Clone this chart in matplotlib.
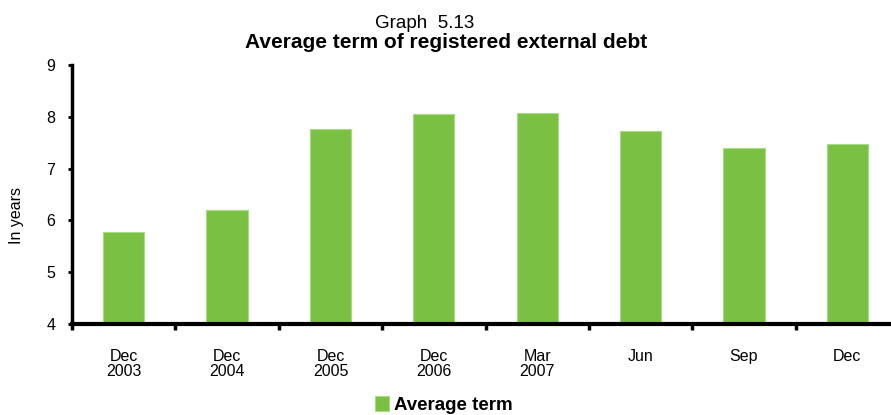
import matplotlib.pyplot as plt
import numpy as np

# Категории и значения
labels = ['Dec\n2003', 'Dec\n2004', 'Dec\n2005', 'Dec\n2006', 'Mar\n2007', 'Jun', 'Sep', 'Dec']
values = [5.78, 6.20, 7.76, 8.05, 8.07, 7.73, 7.40, 7.47]

plt.rcParams['font.family'] = ['Liberation Sans', 'DejaVu Sans']

fig = plt.figure(figsize=(8.91, 4.15), dpi=100)
ax = fig.add_axes([72 / 891, (415 - 324) / 415, 827 / 891, 259 / 415])

x = np.arange(len(values))
ax.bar(x, values, width=0.4, color='#7AC143', edgecolor='#A8DA86', linewidth=0.8,
       label='Average term')

ax.set_ylim(4, 9)
ax.set_xlim(-0.5, len(values) - 0.5)
ax.set_yticks(range(4, 10))
ax.tick_params(axis='y', labelsize=11.5, length=3, width=2, direction='out', pad=9)

# подписи по центру столбцов, засечки между категориями
ax.set_xticks(x)
ax.set_xticklabels(labels, fontsize=11.5, linespacing=1.02)
ax.set_xticks(np.arange(-0.5, len(values), 1.0), minor=True)
ax.tick_params(axis='x', which='major', length=0, pad=18)
ax.tick_params(axis='x', which='minor', length=4, width=2.5, direction='out')

for s in ['top', 'right']:
    ax.spines[s].set_visible(False)
ax.spines['left'].set_linewidth(2.5)
ax.spines['bottom'].set_linewidth(3)

ax.set_ylabel('In years', fontsize=11.5)
ax.yaxis.set_label_coords(-0.058, 0.42)

fig.text(0.477, 1 - 24 / 415, 'Graph  5.13', ha='center', va='center', fontsize=13.5)
fig.text(0.501, 1 - 42 / 415, 'Average term of registered external debt', ha='center',
         va='center', fontsize=15, fontweight='bold')

fig.legend(loc='center', bbox_to_anchor=(0.498, 1 - 405 / 415),
           frameon=False, handlelength=0.75, handleheight=0.85, handletextpad=0.25,
           prop={'weight': 'bold', 'size': 13.5})

fig.savefig('out.png', dpi=100)
